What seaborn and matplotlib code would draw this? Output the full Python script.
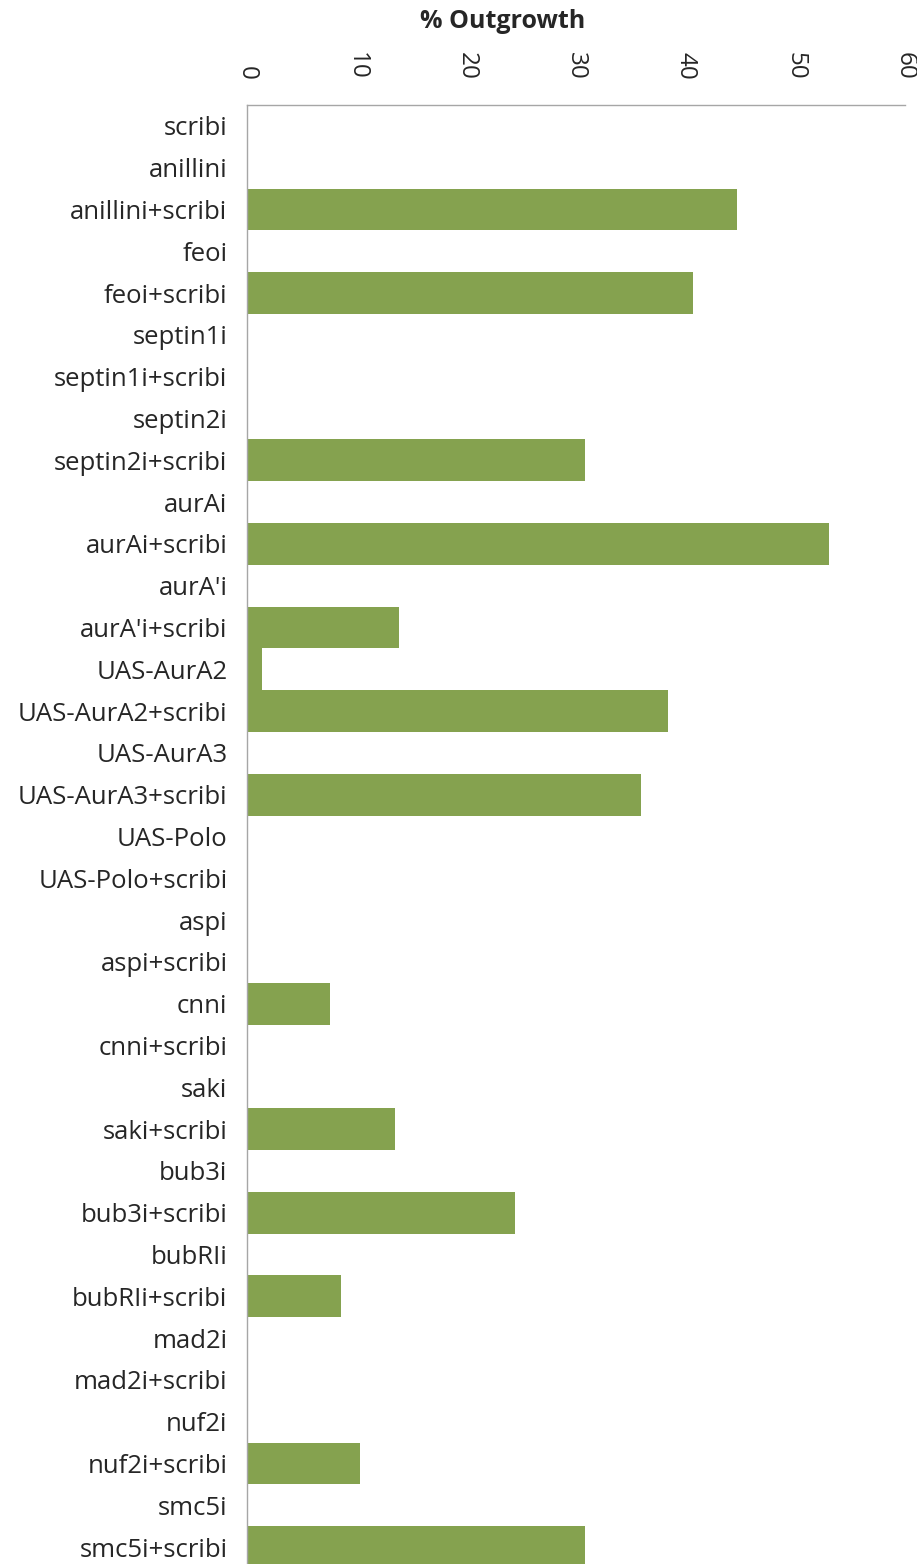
"""Horizontal bar chart of % outgrowth per genotype."""

import matplotlib
matplotlib.use("Agg")
import matplotlib.pyplot as plt
import pandas as pd
import seaborn as sns


GENOTYPES = [
    "scribi", "anillini", "anillini+scribi", "feoi", "feoi+scribi",
    "septin1i", "septin1i+scribi", "septin2i", "septin2i+scribi",
    "aurAi", "aurAi+scribi", "aurA'i", "aurA'i+scribi",
    "UAS-AurA2", "UAS-AurA2+scribi", "UAS-AurA3", "UAS-AurA3+scribi",
    "UAS-Polo", "UAS-Polo+scribi", "aspi", "aspi+scribi",
    "cnni", "cnni+scribi", "saki", "saki+scribi",
    "bub3i", "bub3i+scribi", "bubRIi", "bubRIi+scribi",
    "mad2i", "mad2i+scribi", "nuf2i", "nuf2i+scribi",
    "smc5i", "smc5i+scribi",
]
OUTGROWTH = [
    0, 0, 44.7, 0, 40.7,
    0, 0, 0, 30.8,
    0, 53.1, 0, 13.9,
    1.4, 38.4, 0, 35.9,
    0, 0, 0, 0,
    7.6, 0, 0, 13.5,
    0, 24.4, 0, 8.6,
    0, 0, 0, 10.3,
    0, 30.8,
]
X_TICKS = [0, 10, 20, 30, 40, 50, 60]

BAR_COLOR = "#85A24F"
FONT = ["Open Sans", "DejaVu Sans"]


def main():
    sns.set_theme(style="white")
    plt.rcParams["font.family"] = FONT

    df = pd.DataFrame({"genotype": GENOTYPES, "outgrowth": OUTGROWTH})

    W, H = 917, 1564
    fig = plt.figure(figsize=(W / 100, H / 100), dpi=100)
    ax = fig.add_axes([247 / W, 0, (905 - 247) / W, (H - 105) / H])

    sns.barplot(
        data=df, x="outgrowth", y="genotype", orient="h",
        color=BAR_COLOR, width=1.0, saturation=1, edgecolor="none", ax=ax,
    )

    ax.set_xlim(0, 60)
    ax.set_ylim((H - 126) / 41.8, -0.5)
    ax.xaxis.tick_top()
    ax.set_xticks(X_TICKS)
    ax.set_xticklabels([str(t) for t in X_TICKS], rotation=-90, fontsize=17.5)
    ax.tick_params(axis="x", length=0, pad=18)
    ax.tick_params(axis="y", length=0, pad=14, labelsize=18.5)
    ax.set_xlabel("")
    ax.set_ylabel("")

    for side in ["right", "bottom"]:
        ax.spines[side].set_visible(False)
    for side in ["top", "left"]:
        ax.spines[side].set_color("#a6a6a6")
        ax.spines[side].set_linewidth(1.0)

    fig.text(503 / W, 1 - 21 / H, "% Outgrowth", ha="center", va="center",
             fontsize=18, fontweight="bold")

    fig.savefig("out.png", dpi=100)
    plt.close(fig)


if __name__ == "__main__":
    main()
